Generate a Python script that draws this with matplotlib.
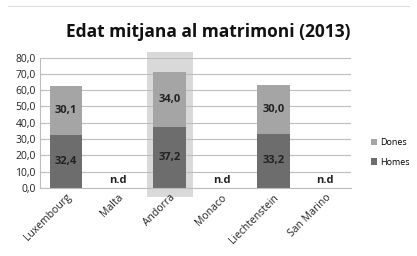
import numpy as np
import matplotlib.pyplot as plt
from matplotlib.patches import Rectangle

# Chart data
countries = ['Luxembourg', 'Malta', 'Andorra', 'Monaco', 'Liechtenstein', 'San Marino']
homes = [32.4, None, 37.2, None, 33.2, None]
dones = [30.1, None, 34.0, None, 30.0, None]


def main():
    plt.rcParams['font.family'] = ['Open Sans', 'DejaVu Sans']
    fig = plt.figure(figsize=(4.17, 2.56), dpi=100)
    ax = fig.add_axes([0.096, 0.266, 0.746, 0.509])

    x = np.arange(len(countries))
    h = np.array([v if v is not None else 0 for v in homes])
    d = np.array([v if v is not None else 0 for v in dones])

# Highlight behind Andorra
    ax.add_patch(Rectangle((1.555, -5.5), 0.89, 89, facecolor='#d9d9d9',
                           edgecolor='none', clip_on=False, zorder=0))

    ax.bar(x, h, width=0.63, color='#6d6d6d', label='Homes', zorder=2)
    ax.bar(x, d, width=0.63, bottom=h, color='#a5a5a5', label='Dones', zorder=2)

# Value labels
    for i in range(len(countries)):
        if homes[i] is None:
            ax.text(x[i], 4.5, 'n.d', ha='center', va='center',
                    fontsize=8, fontweight='bold', color='#222222')
        else:
            ax.text(x[i], homes[i] / 2, f'{homes[i]:.1f}'.replace('.', ','),
                    ha='center', va='center', fontsize=8, fontweight='bold', color='#222222')
            ax.text(x[i], homes[i] + dones[i] / 2, f'{dones[i]:.1f}'.replace('.', ','),
                    ha='center', va='center', fontsize=8, fontweight='bold', color='#222222')

    ax.set_xlim(-0.5, len(countries) - 0.5)
    ax.set_ylim(0, 80)
    ax.set_yticks(np.arange(0, 81, 10))
    ax.set_yticklabels([f'{v:.1f}'.replace('.', ',') for v in np.arange(0, 81, 10)],
                       fontsize=7.5, color='#222222')
    ax.set_xticks(x)
    ax.set_xticklabels(countries, rotation=45, ha='right', rotation_mode='anchor',
                       fontsize=7.5, color='#222222')
    ax.tick_params(length=0, pad=3)
    ax.yaxis.grid(True, color='#bdbdbd', linewidth=0.8, zorder=1)
    ax.set_axisbelow(True)
    for s in ['top', 'right']:
        ax.spines[s].set_visible(False)
    ax.spines['left'].set_color('#bdbdbd')
    ax.spines['bottom'].set_color('#bdbdbd')

    fig.text(0.5, 0.875, 'Edat mitjana al matrimoni (2013)', ha='center', va='center',
             fontsize=12.5, fontweight='bold', color='#111111')

    handles, labels = ax.get_legend_handles_labels()
    fig.legend(handles[::-1], labels[::-1], loc='center left', bbox_to_anchor=(0.87, 0.405),
               frameon=False, fontsize=6.5, handlelength=0.7, handleheight=0.7,
               handletextpad=0.3, labelspacing=1.2)

    fig.add_artist(plt.Line2D([0.02, 0.98], [0.975, 0.975], color='#dddddd', linewidth=0.8))

    fig.savefig('out.png', dpi=100)


if __name__ == '__main__':
    main()
